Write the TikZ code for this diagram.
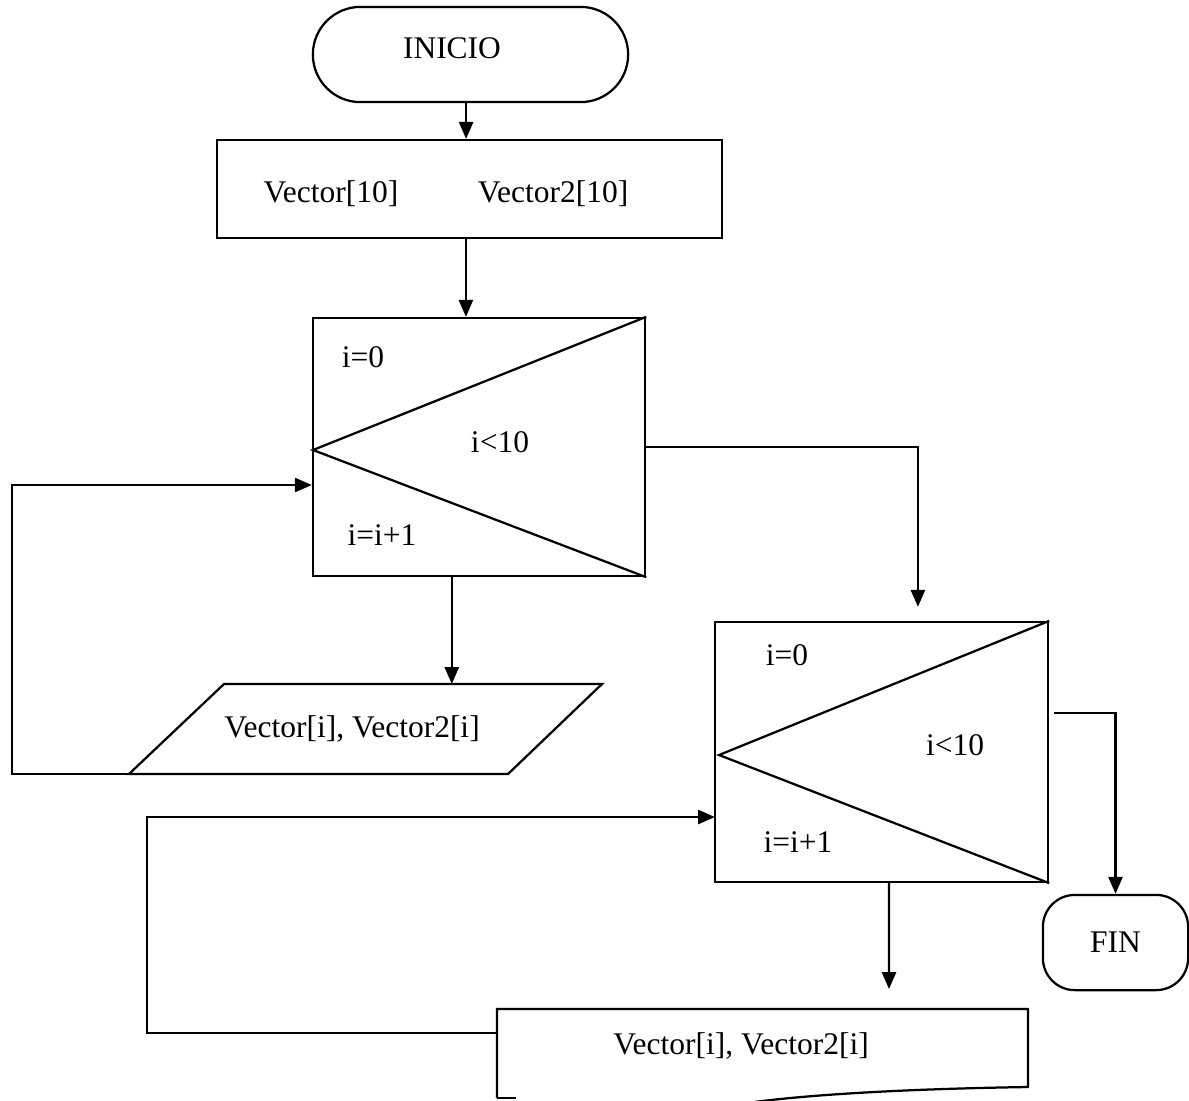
\documentclass[tikz,border=0pt]{standalone}
\usepackage{fontspec}
\setmainfont{Liberation Serif}
\usetikzlibrary{arrows.meta, positioning, shapes.misc}

\begin{document}
\begin{tikzpicture}[x=0.025cm, y=-0.025cm, line width=1.6pt,
    font=\fontsize{22.4}{27}\selectfont,
    flow/.style={-{Triangle[length=12pt, width=10pt]}},
    box/.style={draw, rectangle, inner sep=0pt},
    terminal/.style={draw, rounded rectangle, inner sep=0pt}]

    \useasboundingbox (0,0) rectangle (1189,1100);
    \clip (0,0) rectangle (1189,1100);

    % -------------------------------------------------------------
    % START AND DECLARATION
    % -------------------------------------------------------------
    \node[terminal, minimum width=7.88cm, minimum height=2.38cm] (inicio) at (470.5,54.5) {};
    \node (inicioT) at (452,48) {INICIO};

    \node[box, minimum width=12.63cm, minimum height=2.45cm] (decl) at (469.5,189) {};
    \node (vecA) at (331,194) {Vector[10]};
    \node (vecB) at (553,194) {Vector2[10]};

    % -------------------------------------------------------------
    % FIRST LOOP (read)
    % -------------------------------------------------------------
    \node[box, minimum width=8.3cm, minimum height=6.45cm] (loopA) at (479,447) {};
    \coordinate (apexA) at (313,450);
    \draw (loopA.north east) -- (apexA) -- (loopA.south east);
    \node (iniA) at (363,357) {i=0};
    \node (condA) at (500,442) {i<10};
    \node (incA) at (382,535) {i=i+1};

    % input parallelogram
    \coordinate (pA) at (129,774);
    \coordinate (pB) at (224,684);
    \coordinate (pC) at (602,684);
    \coordinate (pD) at (508,774);
    \draw (pA) -- (pB) -- (pC) -- (pD) -- cycle;
    \node (readA) at (352,729) {Vector[i], Vector2[i]};

    % -------------------------------------------------------------
    % SECOND LOOP (print)
    % -------------------------------------------------------------
    \node[box, minimum width=8.33cm, minimum height=6.5cm] (loopB) at (881.5,752) {};
    \coordinate (apexB) at (719,755);
    \draw (loopB.north east) -- (apexB) -- (loopB.south east);
    \node (iniB) at (787,655) {i=0};
    \node (condB) at (955,745) {i<10};
    \node (incB) at (798,842) {i=i+1};

    % output document
    \coordinate (dTL) at (497,1009);
    \coordinate (dTR) at (1028,1009);
    \draw (497,1098) -- (dTL) -- (dTR) -- (1028,1087)
        .. controls (900,1089) and (800,1095) .. (740,1104);
    \draw (497,1098) -- (516,1098);
    \node (printB) at (741,1046) {Vector[i], Vector2[i]};

    % end
    \node[box, rounded corners=0.8cm, minimum width=3.63cm, minimum height=2.38cm] (fin) at (1115.5,942.5) {FIN};

    % -------------------------------------------------------------
    % CONNECTORS
    % -------------------------------------------------------------
    \coordinate (backA) at (12,485);
    \coordinate (backB) at (147,1033);
    \coordinate (entB) at (715,817);
    \coordinate (docIn) at (889,989);

    \draw[flow] ([xshift=-0.11cm]inicio.south) -- ([xshift=-0.11cm]inicio.south |- decl.north);
    \draw[flow] ([xshift=-0.09cm]decl.south) -- ([xshift=-0.09cm]decl.south |- loopA.north);
    \draw[flow] (loopA.east) -| ([xshift=0.91cm, yshift=0.35cm]loopB.north);
    \draw[flow] ([xshift=-0.68cm]loopA.south) -- ([xshift=-0.68cm]loopA.south |- pC);
    \draw[flow] (pA) -- (pA -| backA) -- (backA) -- (backA -| loopA.west);
    \draw[flow] ([xshift=0.12cm, yshift=0.98cm]loopB.east) -| (fin.north);
    \draw[flow] ([xshift=0.19cm]loopB.south) -- (docIn);
    \draw[flow] (dTL |- backB) -- (backB) |- (entB);

\end{tikzpicture}
\end{document}
